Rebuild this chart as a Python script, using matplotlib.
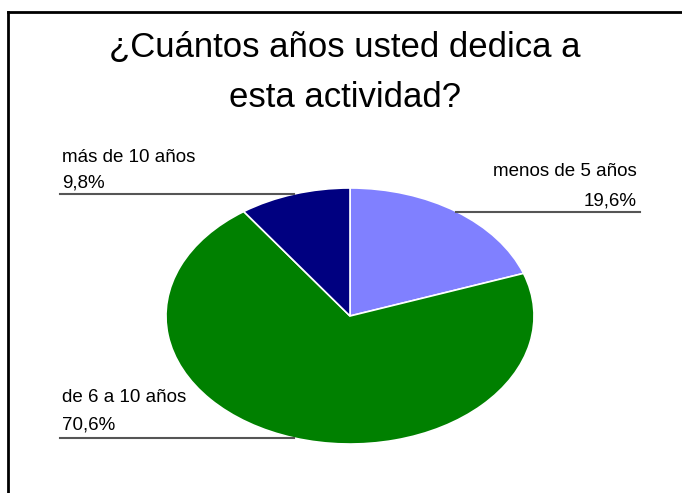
import matplotlib
matplotlib.use("Agg")
import matplotlib.pyplot as plt
import numpy as np
from matplotlib.lines import Line2D

categorias = ["menos de 5 años", "de 6 a 10 años", "más de 10 años"]
porcentajes = [19.6, 70.6, 9.8]
colores = ["#8080FF", "#008000", "#000080"]
etiquetas_pct = ["19,6%", "70,6%", "9,8%"]

W, H = 682, 493
fig = plt.figure(figsize=(W/100, H/100), dpi=100)

def px(x, y):
    # pixel (desde arriba a la izquierda) -> fraccion de figura
    return x / W, 1 - y / H

# marco
fig.add_artist(Line2D([8/W, 1], [1 - 12/H, 1 - 12/H], color="black", lw=2))
fig.add_artist(Line2D([8/W, 8/W], [0, 1 - 12/H], color="black", lw=2))

# titulo
fig.text(*px(345, 47), "¿Cuántos años usted dedica a", ha="center", va="center",
         fontsize=25, family="Liberation Sans")
fig.text(*px(345, 97), "esta actividad?", ha="center", va="center",
         fontsize=25, family="Liberation Sans")

# torta eliptica: ejes mas anchos que altos
ax = fig.add_axes([166/W, (H-444)/H, 368/W, 256/H])
wedges, _ = ax.pie(porcentajes, colors=colores, startangle=90, counterclock=False,
                   radius=1, wedgeprops=dict(edgecolor="white", linewidth=1.2))
ax.set_aspect("auto")
ax.set_xlim(-1, 1)
ax.set_ylim(-1, 1)
ax.axis("off")

# lineas guia y rotulos
pos_texto = {
    "menos de 5 años": (637, 172, 201, "right", 640),
    "de 6 a 10 años": (62, 398, 425, "left", 60),
    "más de 10 años": (62, 157, 183, "left", 60),
}
for w, cat, pct in zip(wedges, categorias, etiquetas_pct):
    ang = np.deg2rad((w.theta1 + w.theta2) / 2)
    xm, ym = np.cos(ang), np.sin(ang)
    tx, ty1, ty2, ha, lx = pos_texto[cat]
    # borde de la linea en coordenadas de datos
    xd = ax.transData.inverted().transform(fig.transFigure.transform(px(lx, 0)))[0]
    ax.plot([xd, xm], [ym, ym], color="#555555", lw=1.5, clip_on=False)
    fig.text(*px(tx, ty1), cat, ha=ha, va="center", fontsize=13.5, family="Liberation Sans")
    fig.text(*px(tx, ty2), pct, ha=ha, va="center", fontsize=13.5, family="Liberation Sans")

fig.savefig("out.png", dpi=100)
